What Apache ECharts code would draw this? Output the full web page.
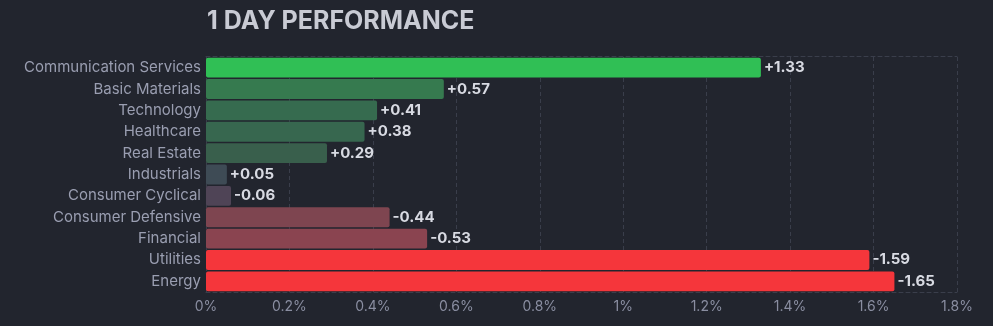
<!DOCTYPE html>
<html><head><meta charset="utf-8">
<script src="https://cdn.jsdelivr.net/npm/echarts@6/dist/echarts.min.js"></script>
<style>html,body{margin:0;padding:0;background:#22252e;}#c{width:993px;height:326px;}</style>
</head><body><div id="c"></div>
<script>
const categories = ["Communication Services","Basic Materials","Technology","Healthcare","Real Estate","Industrials","Consumer Cyclical","Consumer Defensive","Financial","Utilities","Energy"];
const values = [1.33,0.57,0.41,0.38,0.29,0.05,-0.06,-0.44,-0.53,-1.59,-1.65];
const colors = ["#30bf55","#367a4f","#366b4f","#37674f","#395f4c","#3e4b55","#4f4456","#7e4550","#8a4450","#f5363b","#f5363b"];
const xTicks = [0,0.2,0.4,0.6,0.8,1,1.2,1.4,1.6,1.8];

const gridLine = {color: '#3a3e4b', type: [4,3], width: 1};
const chart = echarts.init(document.getElementById('c'));
chart.setOption({
  backgroundColor: '#22252e',
  animation: false,
  title: {
    text: '1 DAY PERFORMANCE', left: 202, top: 4,
    textStyle: {color: '#c9cbd4', fontFamily: 'Inter', fontWeight: 'bold', fontSize: 25}
  },
  grid: {left: 206, right: 36, top: 57, bottom: 34},
  xAxis: [{
    type: 'value', min: 0, max: 1.8, interval: 0.2,
    axisLine: {show: true, lineStyle: gridLine}, axisTick: {show: false},
    splitLine: {show: true, lineStyle: gridLine},
    axisLabel: {color: '#8a8ea1', fontFamily: 'Inter', fontSize: 14, margin: 8,
      formatter: v => (Math.round(v*10)/10) + '%'}
  }, {
    type: 'value', min: 0, max: 1.8, interval: 0.2, position: 'top', offset: 1,
    axisLine: {show: true, lineStyle: gridLine}, axisTick: {show: false},
    splitLine: {show: false}, axisLabel: {show: false}
  }],
  yAxis: {
    type: 'category', data: categories, inverse: true,
    axisLine: {show: false}, axisTick: {show: false},
    splitLine: {show: false},
    axisLabel: {color: '#9a9eb1', fontFamily: 'Inter', fontSize: 15, margin: 5}
  },
  series: [{
    type: 'bar', barCategoryGap: '7%',
    data: values.map((v,i) => ({value: Math.abs(v), itemStyle: {color: colors[i], borderRadius: 2}})),
    label: {
      show: true, position: 'right', distance: 3,
      color: '#d8dae2', fontFamily: 'Inter', fontWeight: 'bold', fontSize: 15,
      formatter: p => (values[p.dataIndex] > 0 ? '+' : '') + values[p.dataIndex].toFixed(2)
    }
  }]
});
</script></body></html>
